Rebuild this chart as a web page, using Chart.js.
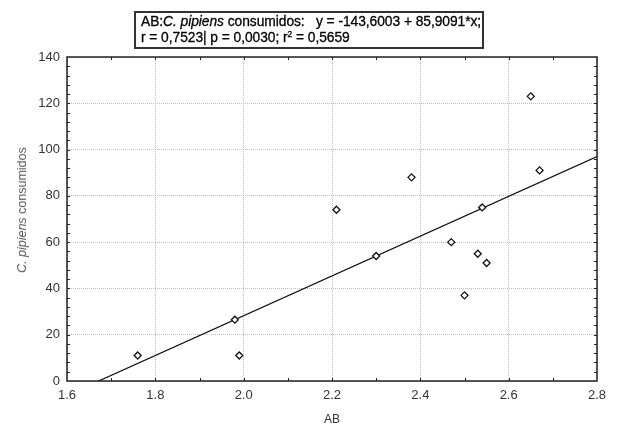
<!DOCTYPE html>
<html><head><meta charset="utf-8">
<script src="https://cdn.jsdelivr.net/npm/chart.js@4"></script>
<style>
html,body{margin:0;padding:0;background:#fff;}
#wrap{position:relative;width:617px;height:427px;font-family:"Liberation Sans",Arial,sans-serif;overflow:hidden;}
#c{position:absolute;left:0;top:0;}
#eq{position:absolute;left:134px;top:11px;width:350px;height:38px;border:2px solid #333;box-sizing:border-box;font-size:13.8px;line-height:15.5px;padding:1px 0 0 5px;color:#000;white-space:pre;-webkit-text-stroke:0.3px #000;letter-spacing:-0.05px;}
#eq sup{font-size:8.5px;line-height:0;vertical-align:5px;}
#ylab{position:absolute;left:22px;top:210px;transform:translate(-50%,-50%) rotate(-90deg);font-size:12.5px;color:#555;white-space:nowrap;}
</style></head>
<body>
<div id="wrap">
<canvas id="c" width="617" height="427"></canvas>
<div id="eq">AB:<i>C. pipiens</i> consumidos:   y = -143,6003 + 85,9091*x;
r = 0,7523| p = 0,0030; r<sup>2</sup> = 0,5659</div>
<div id="ylab"><i>C. pipiens</i> consumidos</div>
</div>
<script>
const abValues = [1.76, 1.98, 1.99, 2.21, 2.30, 2.38, 2.47, 2.50, 2.53, 2.54, 2.55, 2.65, 2.67];
const consumedValues = [11, 26.5, 11, 74, 54, 88, 60, 37, 55, 75, 51, 123, 91];
const fitX = [1.6715, 2.8];
const fitY = [0, 96.95];
const xTickLabels = [1.6, 1.8, 2.0, 2.2, 2.4, 2.6, 2.8];
const yTickLabels = [0, 20, 40, 60, 80, 100, 120, 140];
const xMinorStep = 0.1;
const yMinorStep = 4;

const pts = abValues.map((x, i) => ({x: x, y: consumedValues[i]}));
const fit = fitX.map((x, i) => ({x: x, y: fitY[i]}));

const FONT = '"Liberation Sans", Arial, sans-serif';

const framePlugin = {
  id: 'frame',
  afterDatasetsDraw(chart) {
    const {ctx, chartArea: a, scales: {x, y}} = chart;
    ctx.save();
    ctx.strokeStyle = '#222';
    ctx.lineWidth = 1.5;
    ctx.strokeRect(a.left, a.top, a.right - a.left, a.bottom - a.top);
    ctx.lineWidth = 1;
    ctx.beginPath();
    const nx = Math.round((x.max - x.min) / xMinorStep);
    for (let i = 1; i < nx; i++) {
      const px = Math.round(x.getPixelForValue(x.min + i * xMinorStep)) + 0.5;
      ctx.moveTo(px, a.top); ctx.lineTo(px, a.top + 3);
      ctx.moveTo(px, a.bottom); ctx.lineTo(px, a.bottom - 3);
    }
    const ny = Math.round((y.max - y.min) / yMinorStep);
    for (let i = 1; i < ny; i++) {
      const py = Math.round(y.getPixelForValue(y.min + i * yMinorStep)) + 0.5;
      ctx.moveTo(a.left, py); ctx.lineTo(a.left + 3, py);
      ctx.moveTo(a.right, py); ctx.lineTo(a.right - 3, py);
    }
    ctx.stroke();
    ctx.restore();
  }
};

new Chart(document.getElementById('c'), {
  type: 'scatter',
  data: {
    datasets: [
      {
        label: 'fit',
        data: fit,
        showLine: true,
        borderColor: '#111',
        borderWidth: 1.3,
        pointRadius: 0,
        fill: false,
        order: 2
      },
      {
        label: 'obs',
        data: pts,
        pointStyle: 'rectRot',
        pointRadius: 3.5,
        pointBorderWidth: 1.3,
        borderColor: '#111',
        backgroundColor: '#fff',
        pointBackgroundColor: '#fff',
        order: 1
      }
    ]
  },
  plugins: [framePlugin],
  options: {
    responsive: false,
    animation: false,
    devicePixelRatio: 1,
    events: [],
    layout: {padding: {left: 0, right: 20, top: 57, bottom: 0}},
    plugins: {legend: {display: false}, tooltip: {enabled: false}},
    scales: {
      x: {
        type: 'linear',
        min: 1.6, max: 2.8,
        afterBuildTicks: s => { s.ticks = xTickLabels.map(v => ({value: v})); },
        afterFit: s => { s.height = 46; },
        ticks: {
          callback: v => Number(v).toFixed(1),
          font: {family: FONT, size: 13},
          color: '#333',
          padding: 7,
          maxRotation: 0
        },
        grid: {
          color: '#bdbdbd',
          lineWidth: 1,
          drawTicks: false,
          tickLength: 0
        },
        border: {display: false, dash: [1, 1]},
        title: {
          display: true,
          text: 'AB',
          font: {family: FONT, size: 12},
          color: '#333',
          padding: {top: 12, bottom: 0}
        }
      },
      y: {
        type: 'linear',
        min: 0, max: 140,
        afterBuildTicks: s => { s.ticks = yTickLabels.map(v => ({value: v})); },
        afterFit: s => { s.width = 67; },
        ticks: {
          font: {family: FONT, size: 13},
          color: '#333',
          padding: 7
        },
        grid: {
          color: '#bdbdbd',
          lineWidth: 1,
          drawTicks: false,
          tickLength: 0
        },
        border: {display: false, dash: [1, 1]}
      }
    }
  }
});
</script>
</body></html>
